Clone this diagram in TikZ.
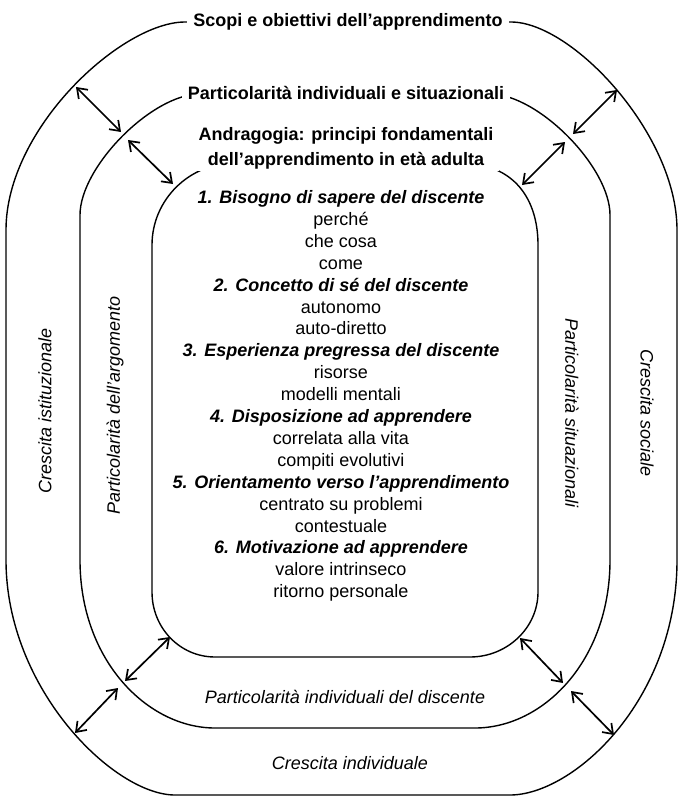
\documentclass[tikz,border=0pt]{standalone}
\usepackage{fontspec}
\setmainfont{Liberation Sans}
\usetikzlibrary{arrows.meta}

\begin{document}
\begin{tikzpicture}[x=1pt,y=-1pt,>={Straight Barb[length=9pt,width=13pt]},
    ring/.style={line width=1.4pt},
    link/.style={<->,line width=1.7pt},
    title/.style={font=\bfseries\fontsize{18}{25}\selectfont,fill=white,align=center,inner xsep=6pt,inner ysep=2pt},
    side/.style={font=\itshape\fontsize{18}{22}\selectfont,inner sep=0pt},
    body/.style={font=\fontsize{18}{21.9}\selectfont,align=center,inner sep=0pt}]
    \useasboundingbox (0,0) rectangle (680,797);
    % the three rings
    \draw[ring] (185,22) -- (511,22) .. controls (572,22) and (677,134) .. (677,230) -- (677,560)
        .. controls (677,701) and (573,795) .. (510,795) -- (175,795)
        .. controls (114,795) and (6,689) .. (6,560) -- (6,230)
        .. controls (6,128) and (122,22) .. (185,22) -- cycle;
    \draw[ring] (200,94) -- (490,94) .. controls (538,94) and (610,167) .. (610,215) -- (610,560)
        .. controls (610,661) and (543,728) .. (475,728) -- (215,728)
        .. controls (148,728) and (80,661) .. (80,560) -- (80,215)
        .. controls (80,167) and (152,94) .. (200,94) -- cycle;
    \draw[ring] (235,163) -- (460,163) .. controls (515,163) and (538,200) .. (538,245) -- (538,592)
        .. controls (538,628) and (507,657) .. (470,657) -- (215,657)
        .. controls (180,657) and (152,628) .. (152,592) -- (152,245)
        .. controls (152,200) and (189,163) .. (235,163) -- cycle;
    % titles on the rings
    \node[title] (scopi) at (348,22) {Scopi e obiettivi dell’apprendimento};
    \node[title] (partic) at (346,93) {Particolarità individuali e situazionali};
    \node[title] (andra) at (346,148) {Andragogia: principi fondamentali\\dell’apprendimento in età adulta};
    % principles
    \node[body] (princ) at (341,396) {%
        {\bfseries\itshape 1. Bisogno di sapere del discente}\\perché\\che cosa\\come\\
        {\bfseries\itshape 2. Concetto di sé del discente}\\autonomo\\auto-diretto\\
        {\bfseries\itshape 3. Esperienza pregressa del discente}\\risorse\\modelli mentali\\
        {\bfseries\itshape 4. Disposizione ad apprendere}\\correlata alla vita\\compiti evolutivi\\
        {\bfseries\itshape 5. Orientamento verso l’apprendimento}\\centrato su problemi\\contestuale\\
        {\bfseries\itshape 6. Motivazione ad apprendere}\\valore intrinseco\\ritorno personale};
    % labels between the rings
    \node[side,rotate=90] (istit) at (45,411) {Crescita istituzionale};
    \node[side,rotate=90] (argom) at (115,405) {Particolarità dell’argomento};
    \node[side,rotate=-90] (situaz) at (572,413) {Particolarità situazionali};
    \node[side,rotate=-90] (sociale) at (647,413) {Crescita sociale};
    \node[side] (discente) at (345,697) {Particolarità individuali del discente};
    \node[side] (individ) at (350,763) {Crescita individuale};
    % arrows at the corners
    \coordinate (nw1) at (76,87);   \coordinate (nw2) at (121,132);
    \coordinate (nw3) at (128,140); \coordinate (nw4) at (173,184);
    \coordinate (ne1) at (617,90);  \coordinate (ne2) at (573,134);
    \coordinate (ne3) at (565,142); \coordinate (ne4) at (522,185);
    \coordinate (sw1) at (75,733);  \coordinate (sw2) at (118,688);
    \coordinate (sw3) at (125,681); \coordinate (sw4) at (170,637);
    \coordinate (se1) at (614,735); \coordinate (se2) at (571,691);
    \coordinate (se3) at (563,683); \coordinate (se4) at (520,638);
    \draw[link] (nw1) -- (nw2);
    \draw[link] (nw3) -- (nw4);
    \draw[link] (ne1) -- (ne2);
    \draw[link] (ne3) -- (ne4);
    \draw[link] (sw1) -- (sw2);
    \draw[link] (sw3) -- (sw4);
    \draw[link] (se1) -- (se2);
    \draw[link] (se3) -- (se4);
\end{tikzpicture}
\end{document}
